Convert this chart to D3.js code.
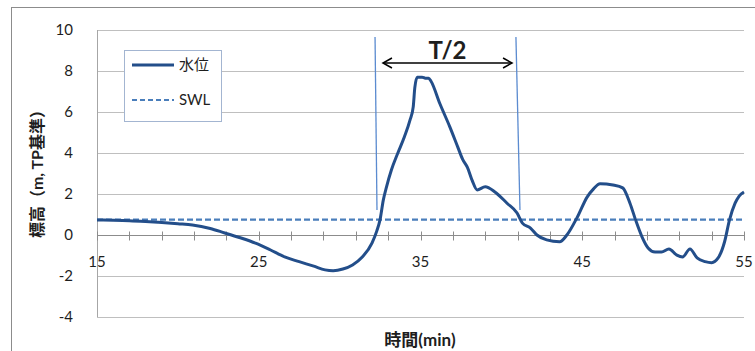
<!DOCTYPE html>
<html lang="ja">
<head>
<meta charset="UTF-8">
<title>水位</title>
<script src="https://cdn.jsdelivr.net/npm/d3@7"></script>
<style>
    body{ margin:0; background:#fff; }
    svg text{ font-family: Lato, "Noto Sans CJK JP", sans-serif; fill:#1e1e1e; }
</style>
</head>
<body>
<svg id="chart" width="755" height="351"></svg>
<script>
    // water level time series (min, m TP)
    let time = [15.0,16.0,17.0,18.0,18.8,20.0,20.9,22.0,22.9,24.0,24.8,25.7,26.6,27.5,28.4,29.1,29.6,30.2,30.8,31.4,
        32.0,32.3,32.5,32.7,32.9,33.2,33.6,34.0,34.35,34.55,34.65,34.8,35.1,35.3,35.5,35.65,36.2,36.8,37.3,37.6,
        37.9,38.2,38.5,39.0,39.6,40.35,40.97,41.3,41.8,42.2,42.8,43.6,44.05,44.7,45.3,45.7,46.1,46.9,47.5,47.95,
        48.3,48.7,49.07,49.5,49.9,50.36,50.85,51.2,51.66,52.1,52.6,53.0,53.4,53.8,54.1,54.45,54.7,55.0]
    let level = [0.73,0.72,0.70,0.66,0.62,0.55,0.49,0.32,0.10,-0.17,-0.40,-0.72,-1.07,-1.30,-1.52,-1.70,-1.74,-1.66,-1.46,-1.07,
        -0.40,0.20,0.75,1.70,2.35,3.17,4.00,4.78,5.60,6.25,7.20,7.70,7.70,7.65,7.65,7.50,6.40,5.30,4.30,3.70,
        3.30,2.65,2.20,2.35,2.10,1.55,1.07,0.58,0.34,0.00,-0.24,-0.33,0.00,0.88,1.85,2.25,2.50,2.44,2.30,1.55,
        0.73,-0.10,-0.63,-0.83,-0.83,-0.68,-0.98,-1.07,-0.68,-1.12,-1.30,-1.35,-1.12,-0.33,0.73,1.55,1.90,2.10]
    let swl = 0.75
    let yTicks = [-4,-2,0,2,4,6,8,10]
    let xLabels = [15,25,35,45,55]
    let xMinor = d3.range(15,55.1,2)
    let legendNames = ["水位","SWL"]
    // T/2 annotation (data units)
    let markLeft = [[32.19,9.66],[32.31,1.22]]
    let markRight = [[40.90,9.66],[41.15,1.22]]
    let arrow = [[32.68,8.39],[40.66,8.39]]

    let svg = d3.select("#chart")
    let x = d3.scaleLinear().domain([15,55]).range([97,744])
    let y = d3.scaleLinear().domain([-4,10]).range([317,30])

    // outer frame
    svg.append("rect").attr("x",11.5).attr("y",7.5).attr("width",770).attr("height",370)
        .attr("fill","none").attr("stroke","#8c8c8c").attr("stroke-width",1)

    // gridlines
    svg.append("g").selectAll("line").data(yTicks).join("line")
        .attr("x1",x(15)).attr("x2",x(55))
        .attr("y1",d=>Math.round(y(d))+0.5).attr("y2",d=>Math.round(y(d))+0.5)
        .attr("stroke","#bfbfbf")
    svg.append("line").attr("x1",x(15)+0.5).attr("x2",x(15)+0.5).attr("y1",y(10)).attr("y2",y(-4))
        .attr("stroke","#a6a6a6")

    // y tick labels
    svg.append("g").selectAll("text").data(yTicks).join("text")
        .attr("x",73).attr("y",d=>y(d)).attr("dy","0.35em")
        .attr("text-anchor","end").attr("font-size",15)
        .text(d=>d)

    // x axis at y=0 with crossing ticks
    let y0 = Math.round(y(0))+0.5
    svg.append("line").attr("x1",x(15)).attr("x2",x(55)).attr("y1",y0).attr("y2",y0).attr("stroke","#8c8c8c")
    svg.append("g").selectAll("line").data(xMinor).join("line")
        .attr("x1",d=>Math.round(x(d))+0.5).attr("x2",d=>Math.round(x(d))+0.5)
        .attr("y1",y0-4).attr("y2",y0+5).attr("stroke","#8c8c8c")
    svg.append("g").selectAll("text").data(xLabels).join("text")
        .attr("x",d=>x(d)).attr("y",y0+31)
        .attr("text-anchor","middle").attr("font-size",15)
        .text(d=>d)

    // axis titles
    svg.append("text").attr("transform","translate(43,170) rotate(-90)")
        .attr("text-anchor","middle").attr("font-size",16).attr("font-weight","bold")
        .text("標高（m, TP基準）")
    svg.append("text").attr("x",420).attr("y",346)
        .attr("text-anchor","middle").attr("font-size",17).attr("font-weight","bold")
        .text("時間(min)")

    // SWL
    svg.append("line").attr("x1",x(15)).attr("x2",x(55)).attr("y1",y(swl)).attr("y2",y(swl))
        .attr("stroke","#4a7ebb").attr("stroke-width",2.2).attr("stroke-dasharray","6,3")

    // annotation lines
    let line = d3.line().x(d=>x(d[0])).y(d=>y(d[1]))
    svg.append("path").attr("d",line(markLeft)).attr("stroke","#5b8bd0").attr("stroke-width",1.3).attr("fill","none")
    svg.append("path").attr("d",line(markRight)).attr("stroke","#5b8bd0").attr("stroke-width",1.3).attr("fill","none")

    // water level
    let pts = time.map((t,i)=>[t,level[i]])
    svg.append("path").attr("d",line.curve(d3.curveMonotoneX)(pts))
        .attr("fill","none").attr("stroke","#234e8a").attr("stroke-width",3).attr("stroke-linejoin","round")

    // T/2 arrow
    let defs = svg.append("defs")
    defs.append("marker").attr("id","head").attr("viewBox","-10 -6 12 12")
        .attr("markerWidth",12).attr("markerHeight",12).attr("refX",0).attr("refY",0)
        .attr("orient","auto-start-reverse").attr("markerUnits","userSpaceOnUse")
        .append("path").attr("d","M-9,-5 L0,0 L-9,5").attr("fill","none").attr("stroke","#000").attr("stroke-width",1.5)
    svg.append("path").attr("d",d3.line().x(d=>x(d[0])).y(d=>y(d[1]))(arrow))
        .attr("stroke","#000").attr("stroke-width",1.5).attr("fill","none")
        .attr("marker-start","url(#head)").attr("marker-end","url(#head)")
    svg.append("text").attr("x",x((arrow[0][0]+arrow[1][0])/2)).attr("y",y(arrow[0][1])-4)
        .attr("text-anchor","middle").attr("font-size",24).attr("font-weight","bold").attr("fill","#000")
        .text("T/2")

    // legend
    let lg = svg.append("g")
    lg.append("rect").attr("x",124.5).attr("y",50.5).attr("width",97).attr("height",71)
        .attr("fill","#fff").attr("stroke","#a3b5d1")
    let lgY = [65,100]
    lg.append("line").attr("x1",132).attr("x2",174).attr("y1",lgY[0]).attr("y2",lgY[0])
        .attr("stroke","#234e8a").attr("stroke-width",3)
    lg.append("line").attr("x1",132).attr("x2",174).attr("y1",lgY[1]).attr("y2",lgY[1])
        .attr("stroke","#4a7ebb").attr("stroke-width",2.2).attr("stroke-dasharray","5,3")
    lg.selectAll("text").data(legendNames).join("text")
        .attr("x",179).attr("y",(d,i)=>lgY[i]).attr("dy","0.35em").attr("font-size",15)
        .text(d=>d)
</script>
</body>
</html>
